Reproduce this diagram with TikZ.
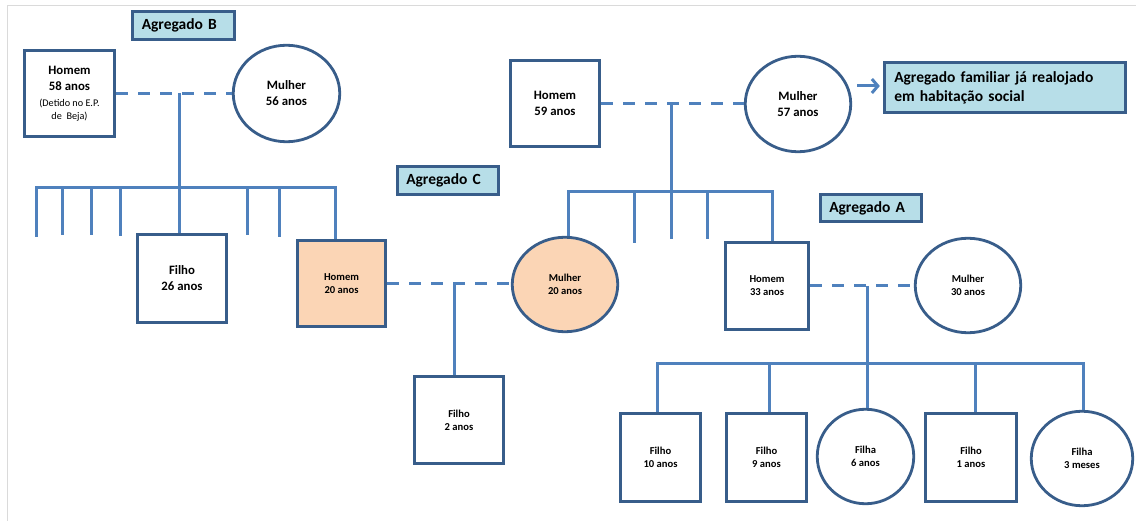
\documentclass[tikz,border=0pt]{standalone}
\usepackage{fontspec}
\setmainfont{Carlito}
\usetikzlibrary{arrows.meta,shapes.geometric}
\definecolor{outl}{HTML}{385D8A}
\definecolor{conn}{HTML}{4F81BD}
\definecolor{lblue}{HTML}{B7DEE8}
\definecolor{peach}{HTML}{FBD5B5}
\definecolor{pageframe}{HTML}{DADADA}
\begin{document}
\begin{tikzpicture}[x=1pt,y=-1pt,
  person/.style={draw=outl, line width=2.8pt, inner sep=0pt, align=center, fill=white},
  mbox/.style={person, rectangle},
  fcirc/.style={person, ellipse},
  bigtxt/.style={font=\fontsize{12.8}{16}\selectfont\bfseries},
  smalltxt/.style={font=\fontsize{10.6}{13}\selectfont\bfseries},
  tag/.style={draw=outl, line width=2.8pt, fill=lblue, inner xsep=9pt, inner ysep=0pt,
              align=left, font=\fontsize{15.5}{19}\selectfont\bfseries},
  link/.style={draw=conn, line width=3pt},
  marriage/.style={link, dash pattern=on 12pt off 10pt},
]
\useasboundingbox (0,0) rectangle (1136,521);
\draw[pageframe, line width=0.8pt] (7,521) -- (7,5) -- (1136,5);

% ---------- labels ----------
\node[tag, text width=83.5pt, minimum height=28.5pt] (agB) at (183.5,25.5) {Agregado B};
\node[tag, text width=83.5pt, minimum height=28.5pt] (agC) at (448,180.5) {Agregado C};
\node[tag, text width=83.5pt, minimum height=27.5pt] (agA) at (871,208) {Agregado A};
\node[tag, inner xsep=10pt, text width=221.5pt, minimum height=50.5pt] (agF) at (1005,87.5)
  {Agregado familiar já realojado\\em habitação social};

% ---------- family B ----------
\node[mbox, bigtxt, minimum width=90.5pt, minimum height=86.5pt] (h58) at (69.5,93.5)
  {Homem\\58 anos\\{\fontsize{10.2}{13}\selectfont\mdseries (Detido no E.P.}\\[-3pt]{\fontsize{10.2}{13}\selectfont\mdseries de\ \ Beja)}};
\node[fcirc, bigtxt, minimum width=106.5pt, minimum height=96.5pt] (m56) at (286.5,93.5) {\\[-8pt]Mulher\\56 anos};
\node[mbox, bigtxt, minimum width=89.5pt, minimum height=88.5pt] (f26) at (182,278.5) {Filho\\26 anos};
\node[mbox, smalltxt, fill=peach, minimum width=88.5pt, minimum height=86.5pt] (h20) at (341.5,283.5) {Homem\\20 anos};

% ---------- family 59 ----------
\node[mbox, bigtxt, minimum width=89.5pt, minimum height=86.5pt] (h59) at (555,103.5) {Homem\\59 anos};
\node[fcirc, bigtxt, minimum width=105.5pt, minimum height=95.5pt] (m57) at (798,104) {Mulher\\57 anos};
\node[fcirc, smalltxt, fill=peach, minimum width=105.5pt, minimum height=94.5pt] (m20) at (565,284.5) {Mulher\\20 anos};
\node[mbox, smalltxt, minimum width=83.5pt, minimum height=87.5pt] (h33) at (767,286) {Homem\\33 anos};

% ---------- family C / A ----------
\node[mbox, smalltxt, minimum width=89.5pt, minimum height=87.5pt] (f2) at (459,420) {Filho\\2 anos};
\node[fcirc, smalltxt, minimum width=105.5pt, minimum height=94.5pt] (m30) at (968,285.5) {Mulher\\30 anos};
\node[mbox, smalltxt, minimum width=80.5pt, minimum height=88.5pt] (f10) at (660.5,457.5) {Filho\\10 anos};
\node[mbox, smalltxt, minimum width=80.5pt, minimum height=88.5pt] (f9) at (766.5,457.5) {Filho\\9 anos};
\node[fcirc, smalltxt, minimum width=96.5pt, minimum height=94.5pt] (fa6) at (865.5,456.5) {Filha\\6 anos};
\node[mbox, smalltxt, minimum width=91.5pt, minimum height=88.5pt] (f1) at (971,457.5) {Filho\\1 anos};
\node[fcirc, smalltxt, minimum width=101.5pt, minimum height=94.5pt] (fa3) at (1082,458.5) {Filha\\3 meses};

% ---------- connectors: family B ----------
\coordinate (mB) at (179,93.5);
\coordinate (bBl) at (36,188);
\coordinate (bBr) at (335,188);
\draw[marriage] (h58.east) -- (m56.west);
\draw[link] (mB) -- (mB |- f26.north);
\coordinate (dB0) at (36,237);
\draw[link] (dB0) -- (bBl) -- (bBr) -- (bBr |- h20.north);
\foreach \x/\y [count=\i] in {62/235,91/235,120/236,247/235,279/237}{
  \coordinate (dB\i) at (\x,\y);
  \draw[link] (dB\i |- bBl) -- (dB\i);
}

% ---------- connectors: family 59 ----------
\coordinate (m5) at (671,0);
\coordinate (b5l) at (568,192);
\coordinate (b5r) at (772,192);
\draw[marriage] (h59.east) -- (h59.east -| m57.west);
\draw[link] (h59.east -| m5) -- (m5 |- b5l);
\draw[link] (b5l |- m20.north) -- (b5l) -- (b5r) -- (b5r |- h33.north);
\foreach \x/\y [count=\i] in {634/243,671/239,707/239}{
  \coordinate (d5\i) at (\x,\y);
  \draw[link] (d5\i |- b5l) -- (d5\i);
}

% ---------- connectors: family C ----------
\coordinate (mC) at (454,0);
\draw[marriage] (h20.east) -- (h20.east -| m20.west);
\draw[link] (h20.east -| mC) -- (mC |- f2.north);

% ---------- connectors: family A ----------
\coordinate (mA) at (867,0);
\coordinate (bAl) at (657,364);
\coordinate (bAr) at (1083,364);
\coordinate (dA2) at (769,364);
\coordinate (dA4) at (975,364);
\draw[marriage] (h33.east) -- (h33.east -| m30.west);
\draw[link] (h33.east -| mA) -- (mA |- fa6.north);
\draw[link] (bAl |- f10.north) -- (bAl) -- (bAr) -- (bAr |- fa3.north);
\draw[link] (dA2) -- (dA2 |- f9.north);
\draw[link] (dA4) -- (dA4 |- f1.north);

% ---------- arrow ----------
\coordinate (aS) at (857,86);
\draw[link, -{Straight Barb[length=6pt,width=14pt]}, shorten >=3pt] (aS) -- (aS -| agF.west);
\end{tikzpicture}
\end{document}
